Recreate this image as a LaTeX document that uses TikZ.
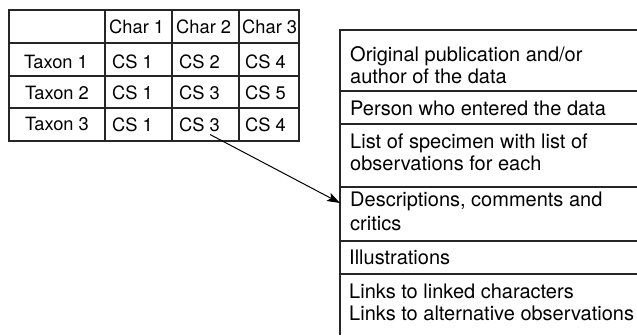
\documentclass[tikz,border=0pt]{standalone}
\usepackage{fontspec}
\setmainfont{TeX Gyre Heros}
\usetikzlibrary{arrows.meta,calc}
\begin{document}
\begin{tikzpicture}[x=1pt,y=-1pt,
  grid/.style={line width=1.1pt,black!85},
  tab/.style={font=\fontsize{18.3}{20}\selectfont,inner sep=0pt},
  box/.style={font=\fontsize{20}{22}\selectfont,inner sep=0pt,anchor=base west},
  arr/.style={line width=1pt,-{Stealth[length=13pt,width=9pt,inset=3pt]}}]
\useasboundingbox (0,0) rectangle (637,335);
% table grid
\draw[grid] (9,10) rectangle (299,141);
\foreach \y in {43,76,108} \draw[grid] (9,\y) -- (299,\y);
\foreach \x in {105,172,239} \draw[grid] (\x,10) -- (\x,141);
% header
\node[tab,anchor=base west] (h1) at (109,33) {Char 1};
\node[tab,anchor=base west] (h2) at (176,33) {Char 2};
\node[tab,anchor=base west] (h3) at (242,33) {Char 3};
% rows
\node[tab,anchor=base] (t1) at (56,68) {Taxon 1};
\node[tab,anchor=base] (t2) at (57,99) {Taxon 2};
\node[tab,anchor=base] (t3) at (57,130) {Taxon 3};
\node[tab,anchor=base west] (c11) at (112,68) {CS 1};
\node[tab,anchor=base west] (c12) at (179,68) {CS 2};
\node[tab,anchor=base west] (c13) at (245,68) {CS 4};
\node[tab,anchor=base west] (c21) at (112,99) {CS 1};
\node[tab,anchor=base west] (c22) at (179,99) {CS 3};
\node[tab,anchor=base west] (c23) at (245,99) {CS 5};
\node[tab,anchor=base west] (c31) at (112,131) {CS 1};
\node[tab,anchor=base west] (c32) at (179,131) {CS 3};
\node[tab,anchor=base west] (c33) at (245,131) {CS 4};
% right box
\draw[grid] (340,335) -- (340,30) -- (640,30);
\foreach \y in {91,124,187,241,274} \draw[grid] (340,\y) -- (640,\y);
\node[box] (r1a) at (350,61) {Original publication and/or};
\node[box] (r1b) at (350,83) {author of the data};
\node[box] (r2) at (350,115) {Person who entered the data};
\node[box] (r3a) at (350,148) {List of specimen with list of};
\node[box] (r3b) at (350,170) {observations for each};
\node[box] (r4a) at (350,206) {Descriptions, comments and};
\node[box] (r4b) at (350,230) {critics};
\node[box] (r5) at (349,264) {Illustrations};
\node[box] (r6a) at (349,298) {Links to linked characters};
\node[box] (r6b) at (349,320) {Links to alternative observations};
\coordinate (target) at (340,203);
\draw[arr] ($(c32.south east)+(-10,3)$) -- (target);
\end{tikzpicture}
\end{document}
